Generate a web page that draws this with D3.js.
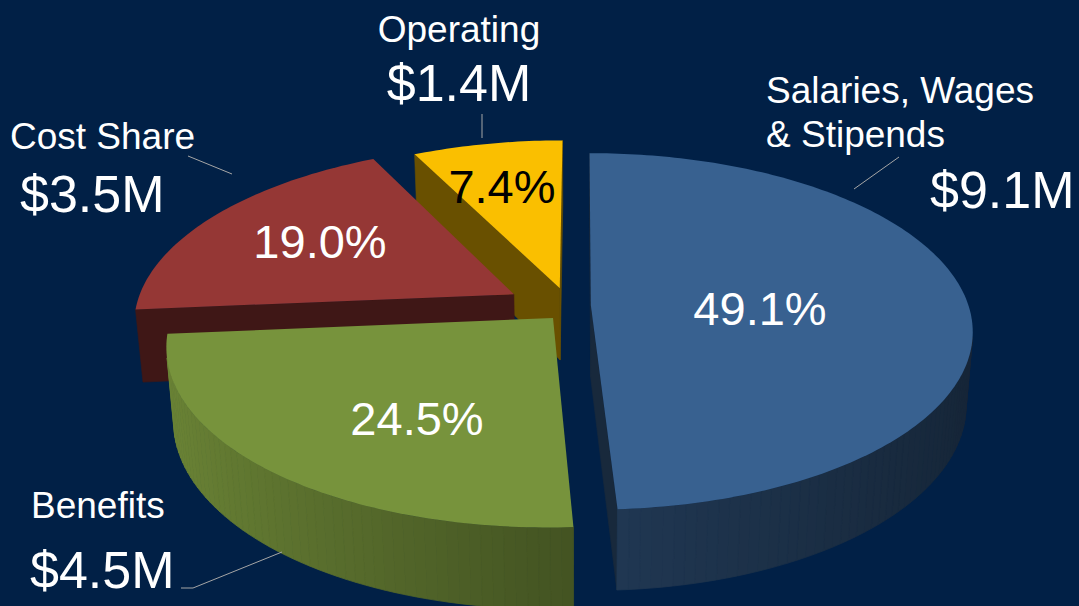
<!DOCTYPE html>
<html>
<head>
<meta charset="utf-8">
<script src="https://cdn.jsdelivr.net/npm/d3@7"></script>
<style>
  html, body { margin: 0; padding: 0; background: #012046; }
  svg { display: block; }
</style>
</head>
<body>
<div id="chart"></div>
<script>
// ---- data ----
var categories = ["Salaries, Wages\n& Stipends", "Benefits", "Cost Share", "Operating"];
var amounts = [9.1, 4.5, 3.5, 1.4];          // $M
var percents = [49.1, 24.5, 19.0, 7.4];      // share of total
var colors = ["#386190", "#77933C", "#953735", "#FABF00"];
var pctColors = ["#ffffff", "#ffffff", "#ffffff", "#000000"];

// ---- layout ----
var W = 1079, H = 606;
var view = { cx: 581, cy: 305, focal: 2265, dist: 6.0, tilt: 27.5 * Math.PI / 180, depth: 0.22 };
var explode = [0.026, 0.104, 0.19, 0.113];   // how far each slice is pulled out (pie radius = 1)
var explodeTurn = [2, 4, -10, -17];          // pull direction, degrees off the slice's mid angle

// label placement (text anchors + leader lines), one entry per slice
var labelLayout = [
  { name: [766, 103, "start"], lineGap: 44, value: [930, 208, "start"], pct: [760, 325], leader: [[899, 157], [854, 189]] },
  { name: [31, 518, "start"], lineGap: 44, value: [30, 588, "start"], pct: [417, 435], leader: [[181, 588], [193, 588], [282, 552]] },
  { name: [10, 149, "start"], lineGap: 44, value: [20, 212, "start"], pct: [320, 258], leader: [[188, 156], [232, 174]] },
  { name: [459, 42, "middle"], lineGap: 44, value: [459, 101, "middle"], pct: [502, 203], leader: [[482, 114], [482, 138]] }
];

var font = "'Liberation Sans', Arial, sans-serif";

var svg = d3.select("#chart").append("svg")
  .attr("width", W)
  .attr("height", H);

svg.append("rect")
  .attr("width", W)
  .attr("height", H)
  .attr("fill", "#012046");

// perspective projection of a world point [x, y(back), z(up)]
var sinT = Math.sin(view.tilt), cosT = Math.cos(view.tilt);
function project(p) {
  var d = view.dist + p[1] * cosT - p[2] * sinT;
  return [view.cx + view.focal * p[0] / d, view.cy - view.focal * (p[1] * sinT + p[2] * cosT) / d];
}
var camPos = [0, -view.dist * cosT, view.dist * sinT];

function shade(c, f) {
  var r = d3.rgb(c);
  return d3.rgb(r.r * f, r.g * f, r.b * f).formatHex();
}
function facing(n, p) {
  return n[0] * (camPos[0] - p[0]) + n[1] * (camPos[1] - p[1]) + n[2] * (camPos[2] - p[2]) > 0;
}

var pie = d3.pie().sort(null).value(function(d) { return d; });
var arcs = pie(percents);

arcs.forEach(function(a, i) {
  a.idx = i;
  a.mid = (a.startAngle + a.endAngle) / 2;
  var dir = a.mid + explodeTurn[i] * Math.PI / 180;
  a.off = [explode[i] * Math.sin(dir), explode[i] * Math.cos(dir)];
});

function pt(a, ang, r, z) {
  return [a.off[0] + r * Math.sin(ang), a.off[1] + r * Math.cos(ang), z];
}
function dist2(p) {
  return Math.pow(p[0] - camPos[0], 2) + Math.pow(p[1] - camPos[1], 2) + Math.pow(p[2] - camPos[2], 2);
}

var line = d3.line().curve(d3.curveLinearClosed);
var zTop = 0, zBot = -view.depth;

// far slices first
var order = arcs.slice().sort(function(a, b) {
  return dist2(pt(b, b.mid, 0.5, 0)) - dist2(pt(a, a.mid, 0.5, 0));
});

var slices = svg.append("g").attr("class", "slices");

order.forEach(function(a) {
  var g = slices.append("g").attr("class", "slice-" + a.idx);
  var col = colors[a.idx];

  // flat cut faces
  [[a.startAngle, a.startAngle - Math.PI / 2], [a.endAngle, a.endAngle + Math.PI / 2]].forEach(function(f) {
    var n = [Math.sin(f[1]), Math.cos(f[1]), 0];
    if (!facing(n, pt(a, f[0], 0.5, zTop))) return;
    var quad = [pt(a, f[0], 0, zTop), pt(a, f[0], 1, zTop), pt(a, f[0], 1, zBot), pt(a, f[0], 0, zBot)].map(project);
    var c = shade(col, 0.42);
    g.append("path").attr("d", line(quad)).attr("fill", c).attr("stroke", c).attr("stroke-width", 0.6);
  });

  // outer curved wall, in thin strips so it can be shaded
  var n = Math.max(2, Math.ceil((a.endAngle - a.startAngle) / (2 * Math.PI) * 240));
  var step = (a.endAngle - a.startAngle) / n;
  for (var k = 0; k < n; k++) {
    var a0 = a.startAngle + k * step, a1 = a0 + step, m = a0 + step / 2;
    var nrm = [Math.sin(m), Math.cos(m), 0];
    if (!facing(nrm, pt(a, m, 1, zTop))) continue;
    var s = Math.sin(m);
    var f = s < 0 ? 0.58 - 0.32 * s : 0.58 - 0.2 * s;
    var c = shade(col, f);
    var quad = [pt(a, a0, 1, zTop), pt(a, a1, 1, zTop), pt(a, a1, 1, zBot), pt(a, a0, 1, zBot)].map(project);
    g.append("path").attr("d", line(quad)).attr("fill", c).attr("stroke", c).attr("stroke-width", 0.8);
  }

  // top face
  var top = [pt(a, 0, 0, zTop)];
  var nt = Math.max(2, Math.ceil((a.endAngle - a.startAngle) / (2 * Math.PI) * 360));
  for (var j = 0; j <= nt; j++) {
    top.push(pt(a, a.startAngle + (a.endAngle - a.startAngle) * j / nt, 1, zTop));
  }
  g.append("path").attr("d", line(top.map(project))).attr("fill", col);
});

// ---- labels ----
var labels = svg.append("g").attr("class", "labels").attr("font-family", font);
var fmtVal = function(v) { return "$" + d3.format(".1f")(v) + "M"; };
var fmtPct = function(v) { return d3.format(".1f")(v) + "%"; };

arcs.forEach(function(a, i) {
  var L = labelLayout[i];

  labels.append("path")
    .attr("d", d3.line()(L.leader))
    .attr("fill", "none")
    .attr("stroke", "#a6a6a6")
    .attr("stroke-width", 1);

  categories[i].split("\n").forEach(function(t, j) {
    labels.append("text")
      .attr("x", L.name[0])
      .attr("y", L.name[1] + j * L.lineGap)
      .attr("text-anchor", L.name[2])
      .attr("font-size", 37)
      .attr("fill", "#fff")
      .text(t);
  });

  labels.append("text")
    .attr("x", L.value[0])
    .attr("y", L.value[1])
    .attr("text-anchor", L.value[2])
    .attr("font-size", 52)
    .attr("fill", "#fff")
    .text(fmtVal(amounts[i]));

  labels.append("text")
    .attr("x", L.pct[0])
    .attr("y", L.pct[1])
    .attr("text-anchor", "middle")
    .attr("font-size", 47)
    .attr("fill", pctColors[i])
    .text(fmtPct(percents[i]));
});
</script>
</body>
</html>
